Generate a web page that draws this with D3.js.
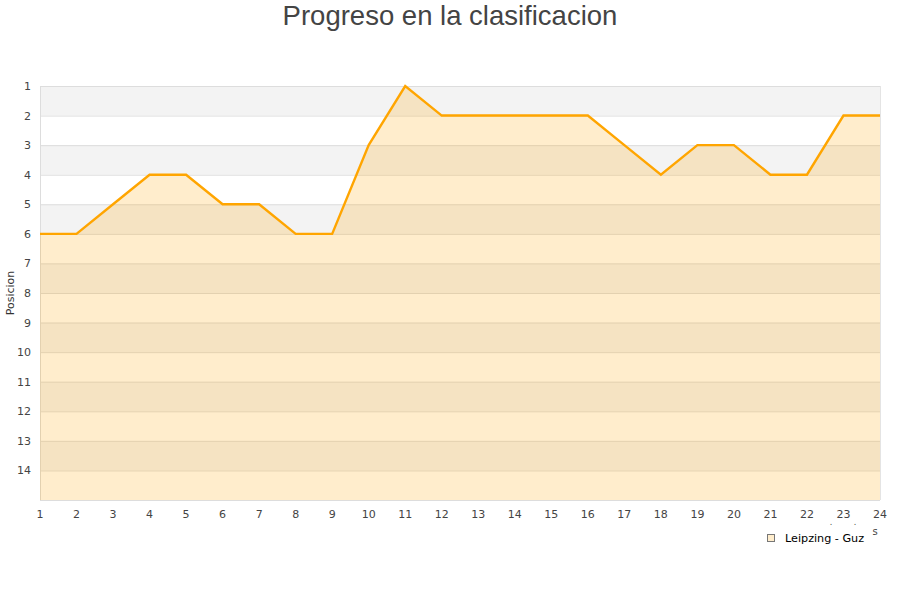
<!DOCTYPE html>
<html><head><meta charset="utf-8">
<script src="https://cdn.jsdelivr.net/npm/d3@7"></script>
<style>body{margin:0;background:#fff;} svg{display:block;}</style>
</head><body>
<svg id="c" width="900" height="600"></svg>
<script>
const jornadas = [1,2,3,4,5,6,7,8,9,10,11,12,13,14,15,16,17,18,19,20,21,22,23,24];
const posiciones = [6,6,5,4,4,5,5,6,6,3,1,2,2,2,2,2,3,4,3,3,4,4,2,2];
const yTicks = [1,2,3,4,5,6,7,8,9,10,11,12,13,14];
const serieNombre = "Leipzing - Guz";
const titulo = "Progreso en la clasificacion";
const yTitulo = "Posicion";

const svg = d3.select("#c");
const L=40,R=880,T=86,B=500;
const x = d3.scaleLinear().domain([1,24]).range([L,R]);
const y = d3.scaleLinear().domain([1,15]).range([T,B]);

const bands = d3.range(1,15);
svg.append("g").selectAll("rect").data(bands).join("rect")
  .attr("x",L).attr("width",R-L)
  .attr("y",d=>y(d)).attr("height",d=>y(d+1)-y(d))
  .attr("fill",d=>d%2===1?"#f3f3f3":"#ffffff");
svg.append("g").selectAll("line").data(d3.range(1,16)).join("line")
  .attr("x1",L).attr("x2",R).attr("y1",d=>y(d)+0.5).attr("y2",d=>y(d)+0.5)
  .attr("stroke","#dddddd").attr("stroke-width",1);
svg.append("line").attr("x1",L+0.5).attr("x2",L+0.5).attr("y1",T).attr("y2",B).attr("stroke","#dddddd");
svg.append("line").attr("x1",R+0.5).attr("x2",R+0.5).attr("y1",T).attr("y2",B).attr("stroke","#e4e4e4");

const pts = jornadas.map((j,i)=>[j,posiciones[i]]);
svg.append("path").datum(pts)
  .attr("d", d3.area().x(d=>x(d[0])).y0(y(15)).y1(d=>y(d[1])))
  .attr("fill","#ffa500").attr("fill-opacity",0.2);
svg.append("path").datum(pts)
  .attr("d", d3.line().x(d=>x(d[0])).y(d=>y(d[1])))
  .attr("fill","none").attr("stroke","#ffa500").attr("stroke-width",2.4);

svg.append("g").selectAll("text").data(yTicks).join("text")
  .attr("x",31).attr("y",d=>y(d)+4).attr("text-anchor","end")
  .attr("font-family","DejaVu Sans").attr("font-size",11).attr("fill","#444")
  .text(d=>d);
svg.append("g").selectAll("text").data(jornadas).join("text")
  .attr("x",d=>x(d)).attr("y",518).attr("text-anchor","middle")
  .attr("font-family","DejaVu Sans").attr("font-size",11).attr("fill","#444")
  .text(d=>d);

svg.append("text").attr("x",450).attr("y",25).attr("text-anchor","middle")
  .attr("font-family","Liberation Sans, Arial, sans-serif").attr("font-size",27.5).attr("fill","#444")
  .text(titulo);
svg.append("text").attr("transform","translate(14,293) rotate(-90)").attr("text-anchor","middle")
  .attr("font-family","DejaVu Sans").attr("font-size",11).attr("fill","#333")
  .text(yTitulo);

svg.append("text").attr("x",875).attr("y",535).attr("text-anchor","middle")
  .attr("font-family","DejaVu Sans").attr("font-size",10).attr("fill","#444").text("s");
svg.append("text").attr("x",831).attr("y",525).attr("text-anchor","middle")
  .attr("font-family","DejaVu Sans").attr("font-size",8).attr("fill","#444").text(".");
svg.append("text").attr("x",855).attr("y",525).attr("text-anchor","middle")
  .attr("font-family","DejaVu Sans").attr("font-size",8).attr("fill","#444").text(".");

svg.append("rect").attr("x",767.5).attr("y",534.5).attr("width",7).attr("height",7)
  .attr("fill","#ffedcc").attr("stroke","#777");
svg.append("text").attr("x",785).attr("y",542).attr("font-family","DejaVu Sans")
  .attr("font-size",11.2).attr("fill","#000").text(serieNombre);
</script>
</body></html>
